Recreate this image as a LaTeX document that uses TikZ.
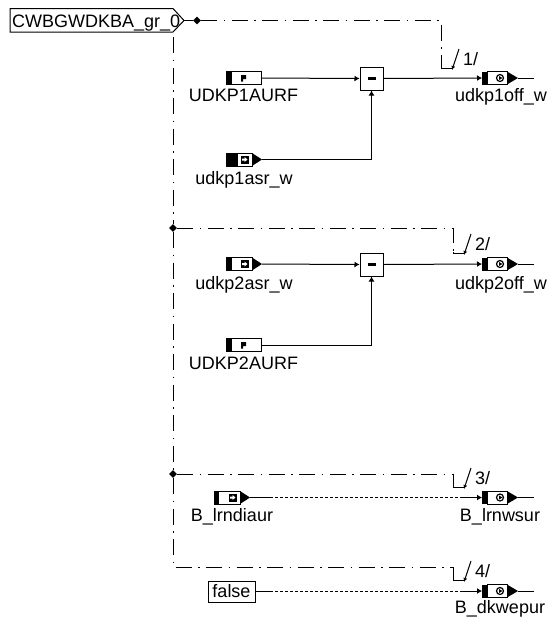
\documentclass[tikz,border=0pt]{standalone}
\usepackage{fontspec}
\setmainfont{Liberation Sans}
\usetikzlibrary{arrows.meta,shapes.geometric}
\tikzset{
  wire/.style={line width=1pt, -{Latex[length=5pt,width=6pt]}},
  bare wire/.style={line width=1pt},
  dotted wire/.style={line width=1pt, dash pattern=on 2.5pt off 2.5pt},
  group line/.style={line width=1pt, dash pattern=on 16pt off 6.5pt on 1.5pt off 6.5pt},
  group arrow/.style={line width=1pt, -{Latex[length=4pt,width=4pt]}},
  branch dot/.style={diamond, fill, inner sep=0pt, minimum size=8pt},
  sig label/.style={font=\fontsize{18}{20}\selectfont, inner sep=0pt, anchor=base},
  sum block/.style={draw, line width=1pt, minimum size=23pt, inner sep=0pt, fill=white},
  const block/.style={draw, line width=1pt, inner sep=0pt, minimum width=47pt, minimum height=21pt},
  pics/param in/.style={code={
    \node[draw, line width=1pt, minimum width=35pt, minimum height=13pt, inner sep=0pt] (-body) at (0,0) {};
    \fill (-17.5,-6.5) rectangle (-11.5,6.5);
    \fill (-2.5,-3) rectangle (2.5,1) (-2.5,1) rectangle (-0.5,3.5);
    \coordinate (-out) at (17.5,0);
  }},
  pics/var in/.style={code={
    \fill (-18,-6.5) rectangle (-18+#1,6.5);
    \draw[line width=1pt] (-18,-6.5) rectangle (8,6.5);
    \fill (8,-6.5) -- (18,0) -- (8,6.5) -- cycle;
    \fill (-3.5,-4) rectangle (4.5,4);
    \fill[white] (-2,-1) rectangle (0.5,1) (0.5,-2.5) -- (3.5,0) -- (0.5,2.5) -- cycle;
    \coordinate (-out) at (18,0);
  }},
  pics/var out/.style={code={
    \fill (0,-6.5) rectangle (5,6.5);
    \draw[line width=1pt] (5,-6.5) rectangle (25,6.5);
    \fill (25,-6.5) -- (36,0) -- (25,6.5) -- cycle;
    \draw[line width=1.2pt] (18,0) circle (3.5pt);
    \fill (17,-2) -- (20.5,0) -- (17,2) -- cycle;
    \coordinate (-in) at (0,0);
    \coordinate (-tip) at (36,0);
    \coordinate (-tail) at (52,0);
  }},
}

\begin{document}
\begin{tikzpicture}[x=1pt, y=-1pt]
  \useasboundingbox (0,0) rectangle (549,619);
  % group port
  \draw[line width=1pt] (10,8.5) -- (173,8.5) -- (184,20.5) -- (173,32) -- (10,32) -- cycle;
  \node[sig label, anchor=base west] (grp) at (12,27) {CWBGWDKBA\_gr\_0};
  \coordinate (grp tip) at (184,20.5);
  \node[branch dot] (top dot) at (197,20.5) {};
  \draw[bare wire] (grp tip) -- (top dot);
  % branches
  \coordinate (trunk top) at (173,37);
  \node[branch dot] (dot2) at (173,228) {};
  \node[branch dot] (dot3) at (173,474) {};
  \coordinate (trunk end) at (173,567);
  \draw[group line] (trunk top) -- (dot2) -- (dot3) -- (trunk end) -- (453,567) -- (453,579);
  \draw[group line] (top dot) -- (441,20.5) -- (441,67);
  \draw[group line] (dot2) -- (453,228) -- (453,252);
  \draw[group line] (dot3) -- (453,474) -- (453,486);
  \foreach \nam/\xa/\ya/\txt in {a/441/67/1, b/453/252/2, c/453/486/3, d/453/579/4}{
    \coordinate (\nam0) at (\xa,\ya);
    \coordinate (\nam1) at (\xa+11,\ya+3);
    \coordinate (\nam2) at (\xa+18,\ya-18);
    \draw[line width=1pt] (\nam0) -- ++(0,1) -- ++(11,0);
    \draw[group arrow] (\nam2) -- (\nam1);
    \node[sig label, anchor=base west] (lab\nam) at (\xa+22,\ya-2) {\txt/};
  }
  % first group
  \pic (p1) at (243.5,78) {param in};
  \pic (a1) at (244,159.5) {var in=12};
  \node[sum block] (sum1) at (371.5,78.5) {\rule{8pt}{3pt}};
  \pic (o1) at (482,78) {var out};
  \draw[wire] (p1-out) -- (sum1.west);
  \draw[wire] (a1-out) -| (sum1.south);
  \draw[wire] (sum1.east) -- (o1-in);
  \draw[bare wire] (o1-tip) -- (o1-tail);
  \node[sig label] (n1) at (243.5,101.5) {UDKP1AURF};
  \node[sig label] (n2) at (244,184) {udkp1asr\_w};
  \node[sig label] (n3) at (501,101.5) {udkp1off\_w};
  % second group
  \pic (a2) at (244,264) {var in=6};
  \pic (p2) at (243.5,345) {param in};
  \node[sum block] (sum2) at (371.5,264.5) {\rule{8pt}{3pt}};
  \pic (o2) at (482,264) {var out};
  \draw[wire] (a2-out) -- (sum2.west);
  \draw[wire] (p2-out) -| (sum2.south);
  \draw[wire] (sum2.east) -- (o2-in);
  \draw[bare wire] (o2-tip) -- (o2-tail);
  \node[sig label] (n4) at (244,289) {udkp2asr\_w};
  \node[sig label] (n5) at (243.5,369.3) {UDKP2AURF};
  \node[sig label] (n6) at (501,289) {udkp2off\_w};
  % third group
  \pic (a3) at (232,497.5) {var in=5};
  \pic (o3) at (482,497.5) {var out};
  \coordinate (s3) at (270,497.5);
  \coordinate (e3) at (462,497.5);
  \draw[bare wire] (a3-out) -- (s3);
  \draw[dotted wire] (s3) -- (e3);
  \draw[wire] (e3) -- (o3-in);
  \draw[bare wire] (o3-tip) -- (o3-tail);
  \node[sig label] (n7) at (232,521) {B\_lrndiaur};
  \node[sig label] (n8) at (500,521) {B\_lrnwsur};
  % fourth group
  \node[const block] (fls) at (231.5,591.5) {};
  \node[sig label] (flstxt) at (231.5,597.7) {false};
  \pic (o4) at (482,591) {var out};
  \coordinate (s4) at (270,591);
  \coordinate (e4) at (462,591);
  \draw[bare wire] (fls.east |- s4) -- (s4);
  \draw[dotted wire] (s4) -- (e4);
  \draw[wire] (e4) -- (o4-in);
  \draw[bare wire] (o4-tip) -- (o4-tail);
  \node[sig label] (n9) at (500,613) {B\_dkwepur};
\end{tikzpicture}
\end{document}
